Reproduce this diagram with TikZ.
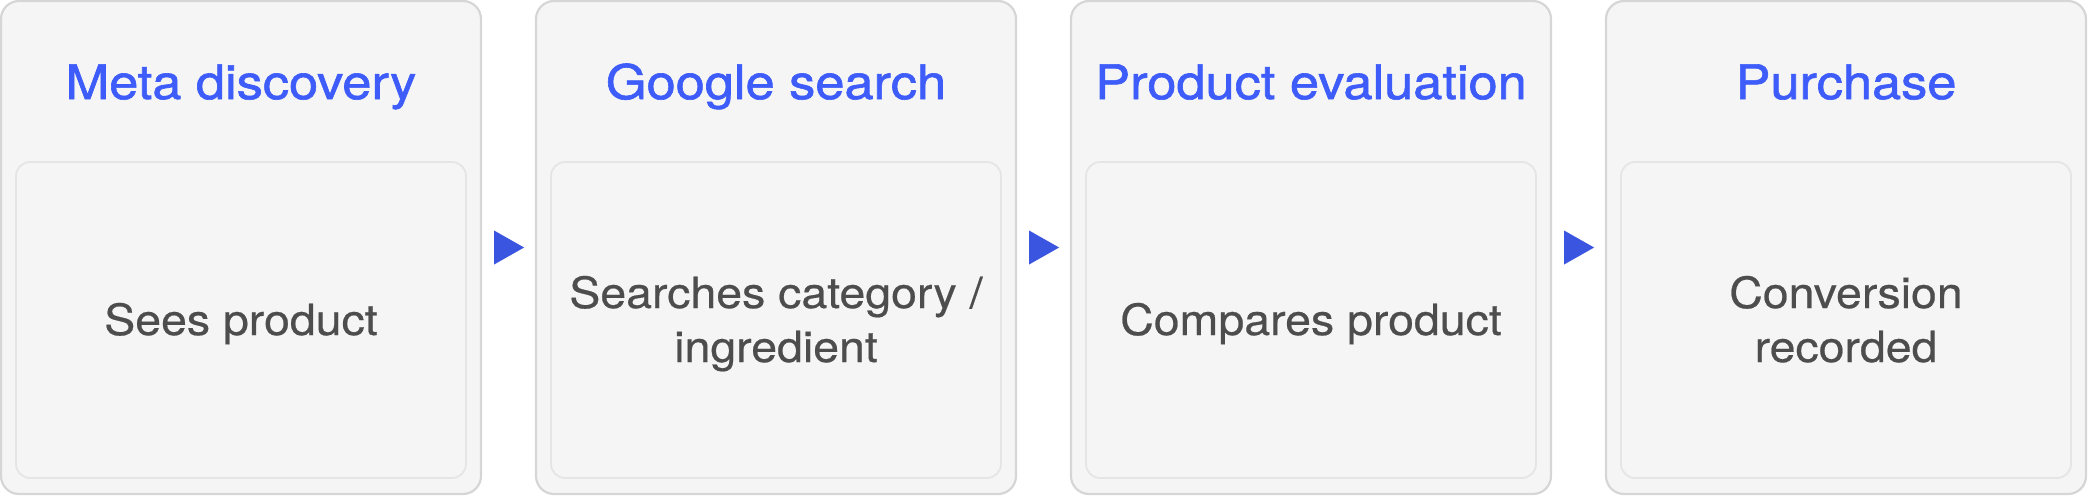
\documentclass[tikz,border=0pt]{standalone}
\usepackage{fontspec}
\setmainfont{TeX Gyre Heros}
\newfontfamily\titlefont[FakeStretch=1.10,FakeBold=1.3]{TeX Gyre Heros}
\newfontfamily\bodyfont[FakeStretch=1.08,FakeBold=0.5]{TeX Gyre Heros}
\definecolor{boxfill}{HTML}{F5F5F5}
\definecolor{boxline}{HTML}{D6D6D6}
\definecolor{innerline}{HTML}{E5E5E5}
\definecolor{titleblue}{HTML}{3D5CFA}
\definecolor{arrowblue}{HTML}{3A55E0}
\definecolor{bodytext}{HTML}{4D4D4D}
\tikzset{
  outerbox/.style={draw=boxline, line width=1.1pt, fill=boxfill, rounded corners=9pt,
    minimum width=240pt, minimum height=246.5pt, inner sep=0pt},
  innerbox/.style={draw=innerline, line width=0.9pt, fill=boxfill, rounded corners=7pt,
    minimum width=225pt, minimum height=158pt, inner sep=0pt},
  titletext/.style={text=titleblue, font=\titlefont\fontsize{23.8}{28}\selectfont,
    anchor=base, inner sep=0pt},
  bodylabel/.style={text=bodytext, font=\bodyfont\fontsize{21.5}{27}\selectfont,
    anchor=base, inner sep=0pt, align=center},
  flowtip/.style={fill=arrowblue}
}
\begin{document}
\begin{tikzpicture}[x=0.5pt,y=-0.5pt]
\useasboundingbox (0,0) rectangle (2088,495);
\foreach \i/\t/\b/\yb in {0/{Meta discovery}/{Sees product}/335,
                      1/{Google search}/{Searches category /\\ingredient}/362,
                      2/{Product evaluation}/{Compares product}/335,
                      3/{Purchase}/{Conversion\\recorded}/362}{
  \pgfmathsetmacro{\cx}{241+535*\i}
  \node[outerbox] (b\i) at (\cx,247.5) {};
  \node[innerbox] (in\i) at (\cx,320) {};
  \node[titletext] (t\i) at (\cx,99) {\t};
  \node[bodylabel] (l\i) at (\cx,\yb) {\b};
}
\foreach \i in {0,1,2}{
  \fill[flowtip] (b\i.east) ++(12,-17) coordinate (a\i) -- ++(30,17) -- ++(-30,17) -- cycle;
}
\end{tikzpicture}
\end{document}
